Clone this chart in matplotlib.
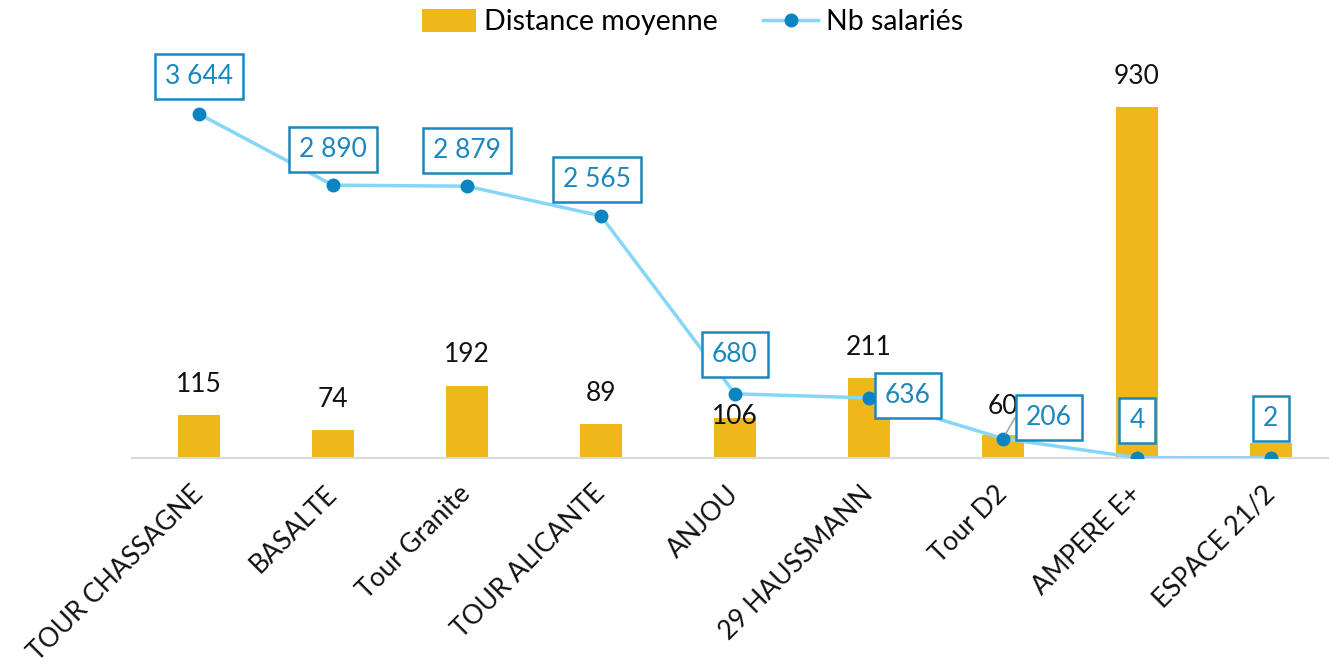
import matplotlib.pyplot as plt
from matplotlib.patches import Patch
from matplotlib.lines import Line2D

plt.rcParams['font.family'] = ['Lato', 'DejaVu Sans']

# Data
sites = ['TOUR CHASSAGNE', 'BASALTE', 'Tour Granite', 'TOUR ALICANTE', 'ANJOU',
         '29 HAUSSMANN', 'Tour D2', 'AMPERE E+', 'ESPACE 21/2']
distance = [115, 74, 192, 89, 106, 211, 60, 930, 40]
nb_salaries = [3644, 2890, 2879, 2565, 680, 636, 206, 4, 2]

bar_color = '#F0B71A'
line_color = '#86D7F7'
marker_color = '#0B84C0'
label_blue = '#1B87BF'

# label offsets in points (dx, dy); None = label hidden behind a box in the original
bar_offsets = [(0, 22), (0, 22), (0, 22), (0, 22), (0, 1), (0, 22), (0, 21), (0, 22), None]
line_offsets = [(0, 27), (0, 26), (0, 26), (-3, 26), (0, 28), (28, 2), (33, 15), (0, 27), (0, 28)]

fig = plt.figure(figsize=(13.29, 6.69), dpi=100)
ax = fig.add_axes([0.0993, 0.3154, 0.9074, 0.6099])
ax2 = ax.twinx()

x = list(range(len(sites)))
ax.bar(x, distance, width=0.31, color=bar_color, zorder=2)
ax.set_xlim(-0.5, len(sites) - 0.5)
ax.set_ylim(0, 408 / (351 / 930))
ax2.set_ylim(0, 408 / (344 / 3644))
ax2.plot(x, nb_salaries, color=line_color, linewidth=2.5, marker='o',
         markersize=9, markerfacecolor=marker_color, markeredgecolor=marker_color, zorder=3)

for a in (ax, ax2):
    for s in ('top', 'left', 'right'):
        a.spines[s].set_visible(False)
    a.set_yticks([])
ax2.spines['bottom'].set_visible(False)
ax.spines['bottom'].set_color('#D9D9D9')
ax.spines['bottom'].set_linewidth(1.5)

ax.set_xticks(x)
ax.set_xticklabels(sites, rotation=45, ha='right', va='center', rotation_mode='anchor',
                   fontsize=19, color='#111111')
ax.tick_params(axis='x', length=0, pad=23)

for i, v in enumerate(distance):
    if bar_offsets[i] is None:
        continue
    dx, dy = bar_offsets[i]
    ax.annotate(str(v), (i, v), xytext=(dx, dy), textcoords='offset points',
                ha='center', va='center', fontsize=19, color='#111111', zorder=4)

for i, v in enumerate(nb_salaries):
    dx, dy = line_offsets[i]
    txt = f'{v:,}'.replace(',', ' ')
    arrow = None
    if i == 6:
        arrow = dict(arrowstyle='-', color='#A6A6A6', lw=1.2, shrinkA=0, shrinkB=4,
                     connectionstyle='angle,angleA=0,angleB=60,rad=0')
    ax2.annotate(txt, (i, v), xytext=(dx, dy), textcoords='offset points',
                 ha='center', va='center', fontsize=19, color=label_blue, zorder=5,
                 bbox=dict(boxstyle='square,pad=0.38', fc='white', ec=label_blue, lw=1.8),
                 arrowprops=arrow)

handles = [Patch(facecolor=bar_color, label='Distance moyenne'),
           Line2D([], [], color=line_color, linewidth=2.5, marker='o', markersize=9,
                  markerfacecolor=marker_color, markeredgecolor=marker_color, label='Nb salariés')]
fig.legend(handles=handles, loc='upper center', bbox_to_anchor=(0.521, 1.025), ncol=2,
           frameon=False, fontsize=20.5, handlelength=1.9, handleheight=0.85,
           columnspacing=1.6, handletextpad=0.3)

fig.savefig('out.png', dpi=100)
